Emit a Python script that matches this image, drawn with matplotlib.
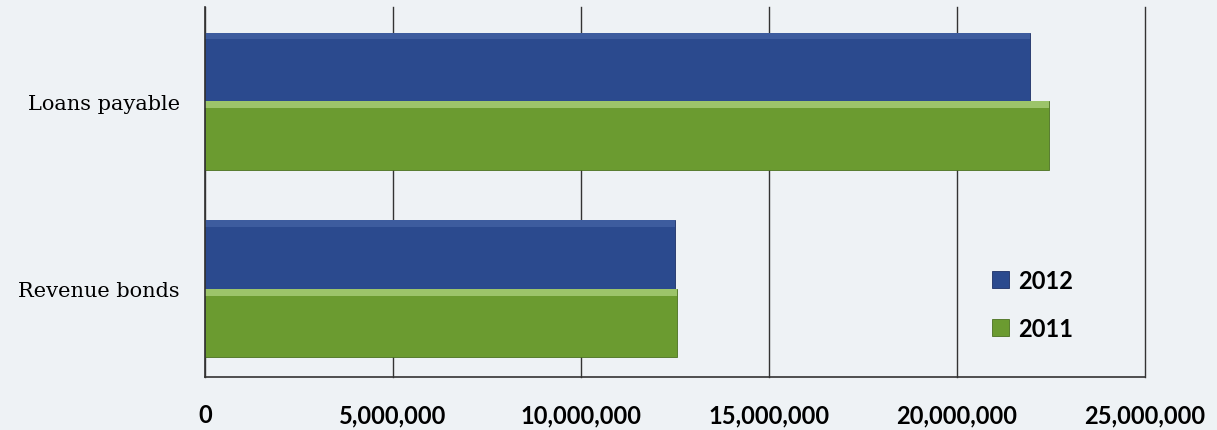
import numpy as np
import matplotlib.pyplot as plt
from matplotlib.ticker import FuncFormatter

# --- data ---
CATEGORIES = ["Revenue bonds", "Loans payable"]
SERIES = ["2012", "2011"]
VALUES_2012 = [12_500_000, 21_950_000]
VALUES_2011 = [12_550_000, 22_450_000]
X_TICKS = [0, 5_000_000, 10_000_000, 15_000_000, 20_000_000, 25_000_000]

BG = "#eef2f5"
BLUE = "#2b4a8e"
GREEN = "#6b9b30"
BLUE_HI = "#3d5c9e"
GREEN_HI = "#9cc46a"

fig = plt.figure(figsize=(12.17, 4.31), dpi=100, facecolor=BG)
ax = fig.add_axes([0.1684, 0.123, 0.7724, 0.858], facecolor=BG)

y = np.arange(len(CATEGORIES))
h = 0.365

# vertical gridlines behind bars
ax.set_axisbelow(True)
ax.grid(axis="x", color="#333333", lw=1.0)

b12 = ax.barh(y + h / 2, VALUES_2012, height=h, color=BLUE, label=SERIES[0],
              edgecolor="#1c3066", lw=0.6)
b11 = ax.barh(y - h / 2, VALUES_2011, height=h, color=GREEN, label=SERIES[1],
              edgecolor="#4a7020", lw=0.6)
# bevel highlights along the top of each bar
ax.barh(y + h - h * 0.05, VALUES_2012, height=h * 0.10, color=BLUE_HI, lw=0)
ax.barh(y - h * 0.05, VALUES_2011, height=h * 0.10, color=GREEN_HI, lw=0)

ax.set_xlim(0, 25_000_000)
ax.set_ylim(-0.47, 1.5)
ax.set_xticks(X_TICKS)
ax.xaxis.set_major_formatter(FuncFormatter(lambda v, p: f"{int(v):,}"))
ax.set_yticks(y)
ax.set_yticklabels(CATEGORIES, family="DejaVu Serif", fontsize=15)

# last gridline sits on the xlim edge, don't let it get clipped
for gl in ax.get_xgridlines():
    gl.set_clip_on(False)

for lab in ax.get_xticklabels():
    lab.set_family("Lato")
    lab.set_fontweight("bold")
    lab.set_fontsize(17)

ax.tick_params(axis="x", length=0, pad=19)
ax.tick_params(axis="y", length=0, pad=18)

for s in ["top", "right"]:
    ax.spines[s].set_visible(False)
for s in ["left", "bottom"]:
    ax.spines[s].set_color("#333333")
    ax.spines[s].set_linewidth(1.2)

leg = ax.legend(handles=[b12, b11], loc="upper left", bbox_to_anchor=(0.837, 0.292),
                frameon=False, handlelength=0.75, handleheight=0.75,
                handletextpad=0.35, labelspacing=1.05, borderpad=0, borderaxespad=0,
                prop={"family": "Lato", "weight": "bold", "size": 17})

fig.savefig("out.png", dpi=100, facecolor=BG)
